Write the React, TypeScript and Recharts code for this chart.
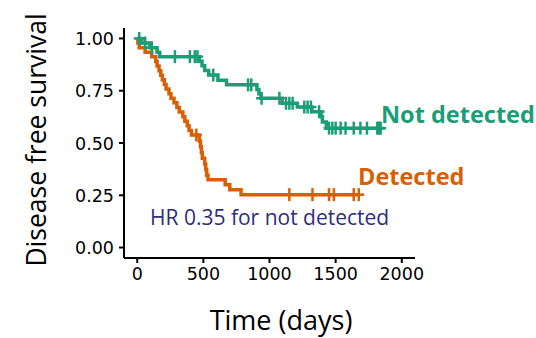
import React from 'react'
import { ComposedChart, Line, Scatter, XAxis, YAxis } from 'recharts'

// Kaplan-Meier steps (days, survival)
const notDetTimes = [0, 35, 95, 150, 170, 470, 490, 510, 540, 610, 675, 905, 920, 935, 1095, 1210, 1320, 1390, 1400, 1430]
const notDetSurv = [1, 0.978, 0.956, 0.934, 0.913, 0.891, 0.869, 0.847, 0.825, 0.8, 0.778, 0.756, 0.735, 0.714, 0.69, 0.672, 0.65, 0.625, 0.6, 0.571]
const notDetCensor = [15, 60, 110, 285, 398, 435, 455, 575, 838, 862, 940, 1075, 1125, 1150, 1175, 1263, 1288, 1313, 1375, 1450, 1475, 1500, 1538, 1575, 1637, 1687, 1737, 1815, 1825, 1835, 1840]
const notDetEnd = 1840

const detTimes = [0, 5, 15, 60, 110, 140, 150, 165, 178, 190, 205, 218, 240, 255, 278, 300, 318, 345, 360, 378, 392, 410, 470, 478, 485, 492, 510, 518, 525, 535, 665, 700, 785]
const detSurv = [1, 0.978, 0.956, 0.934, 0.912, 0.89, 0.868, 0.846, 0.824, 0.802, 0.78, 0.758, 0.736, 0.714, 0.692, 0.67, 0.648, 0.626, 0.604, 0.582, 0.56, 0.538, 0.51, 0.482, 0.454, 0.427, 0.4, 0.373, 0.346, 0.324, 0.3, 0.277, 0.253]
const detCensor = [447, 1150, 1325, 1450, 1487, 1637, 1675]
const detEnd = 1680

const xTicks = [0, 500, 1000, 1500, 2000]
const yTicks = [0, 0.25, 0.5, 0.75, 1]

const GREEN = '#1b9e77'
const ORANGE = '#d95f02'

function survAt(times: number[], surv: number[], t: number) {
  let s = surv[0]
  for (let i = 0; i < times.length; i++) if (times[i] <= t) s = surv[i]
  return s
}

function stepData(times: number[], surv: number[], end: number) {
  const d = times.map((t, i) => ({ t, s: surv[i] }))
  d.push({ t: end, s: surv[surv.length - 1] })
  return d
}

function censorData(times: number[], surv: number[], cens: number[]) {
  return cens.map(t => ({ t, s: survAt(times, surv, t) }))
}

const plus = (color: string) => (props: any) => {
  const { cx, cy } = props
  return (
    <g stroke={color} strokeWidth={2.5}>
      <line x1={cx} x2={cx} y1={cy - 6.5} y2={cy + 6.5} />
      <line x1={cx - 5.5} x2={cx + 5.5} y1={cy} y2={cy} />
    </g>
  )
}

const XTick = ({ x, y, payload }: any) => (
  <text x={x} y={y} dy={14} textAnchor='middle' style={{ fontFamily: 'DejaVu Sans', fontSize: 17.5 }} fill='#000'>
    {payload.value}
  </text>
)

const YTick = ({ x, y, payload }: any) => (
  <text x={x} y={y} dy={6.5} textAnchor='end' style={{ fontFamily: 'DejaVu Sans', fontSize: 17.5 }} fill='#000'>
    {Number(payload.value).toFixed(2)}
  </text>
)

export default function App() {
  return (
    <div style={{ position: 'absolute', left: 0, top: 0, width: 536, height: 338, background: '#fff' }}>
      <ComposedChart width={536} height={338} margin={{ top: 28, right: 121, bottom: 50, left: 0 }}>
        <XAxis type='number' dataKey='t' domain={[-100, 2100]} ticks={xTicks} allowDataOverflow
          height={30} tickSize={5} tickMargin={3} tick={<XTick />}
          axisLine={{ stroke: '#000', strokeWidth: 2 }} tickLine={{ stroke: '#000', strokeWidth: 2 }} />
        <YAxis type='number' domain={[-0.05, 1.05]} ticks={yTicks} allowDataOverflow
          width={124} tickSize={5} tickMargin={5} tick={<YTick />}
          axisLine={{ stroke: '#000', strokeWidth: 2 }} tickLine={{ stroke: '#000', strokeWidth: 2 }} />
        <Line data={stepData(detTimes, detSurv, detEnd)} dataKey='s' type='stepAfter' stroke={ORANGE}
          strokeWidth={3.5} dot={false} isAnimationActive={false} />
        <Scatter data={censorData(detTimes, detSurv, detCensor)} dataKey='s' shape={plus(ORANGE)} isAnimationActive={false} />
        <Line data={stepData(notDetTimes, notDetSurv, notDetEnd)} dataKey='s' type='stepAfter' stroke={GREEN}
          strokeWidth={3.5} dot={false} isAnimationActive={false} />
        <Scatter data={censorData(notDetTimes, notDetSurv, notDetCensor)} dataKey='s' shape={plus(GREEN)} isAnimationActive={false} />
      </ComposedChart>
      <svg width={536} height={338} style={{ position: 'absolute', left: 0, top: 0, pointerEvents: 'none' }}>
        <text x={281} y={330} textAnchor='middle' fontFamily='Open Sans' fontSize={27} fill='#000'>Time (days)</text>
        <text transform='translate(46,140) rotate(-90)' textAnchor='middle' fontFamily='Open Sans' fontSize={26.5} fill='#000'>Disease free survival</text>
        <text x={150} y={225} fontFamily='Open Sans' fontSize={21} fill='#302d7d'>HR 0.35 for not detected</text>
        <text x={381} y={123} fontFamily='Open Sans' fontWeight='bold' fontSize={23.5} fill={GREEN}>Not detected</text>
        <text x={358} y={185} fontFamily='Open Sans' fontWeight='bold' fontSize={23.5} fill={ORANGE}>Detected</text>
      </svg>
    </div>
  )
}
